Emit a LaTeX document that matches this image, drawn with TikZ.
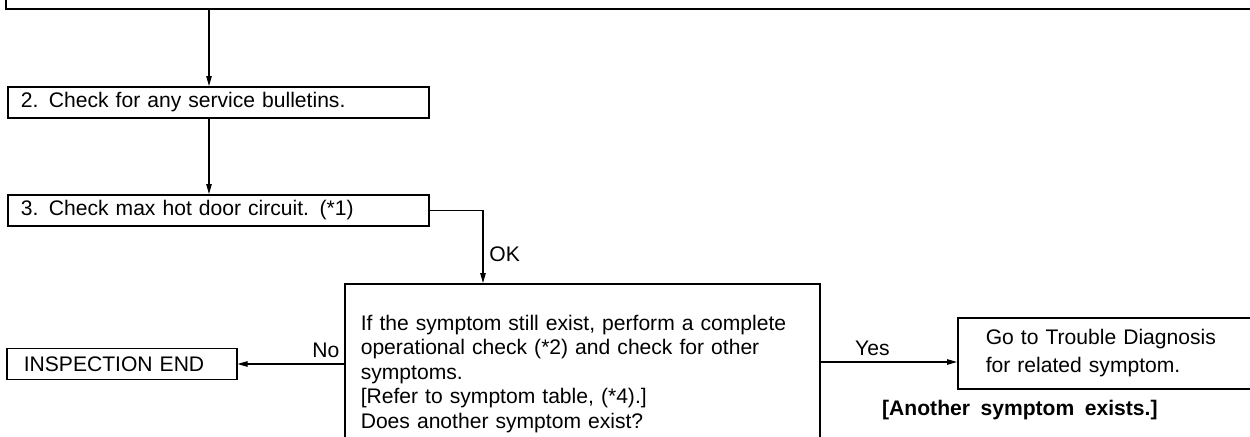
\documentclass[tikz,border=0pt]{standalone}
\usepackage{fontspec}
\setmainfont[WordSpace=1.8]{Liberation Sans}
\usetikzlibrary{arrows.meta}
\begin{document}
\begin{tikzpicture}[x=.2mm,y=-.2mm,
    font=\fontsize{12}{14}\selectfont,
    box/.style={draw,line width=.9pt,align=left,anchor=north west},
    flow/.style={line width=.6pt,-{Triangle[length=2mm,width=1.1mm]}}]
  \useasboundingbox (0,0) rectangle (1250,436);
  \clip (0,0) rectangle (1250,436);
  % steps down the left side
  \node[box,minimum width=26cm,minimum height=1.2cm,anchor=south west] (step1) at (5,10) {};
  \node[box,text width=7.9cm,inner xsep=.26cm,minimum height=.62cm] (step2) at (7,86) {2. Check for any service bulletins.};
  \node[box,text width=7.9cm,inner xsep=.26cm,minimum height=.62cm] (step3) at (7,194) {3. Check max hot door circuit. (*1)};
  \node[box,text width=8.86cm,inner xsep=.32cm,minimum height=3.6cm] (check) at (344,283)
    {If the symptom still exist, perform a complete\\operational check (*2) and check for other\\symptoms.\\{}[Refer to symptom table, (*4).]\\Does another symptom exist?};
  \node[box,text width=3.92cm,inner xsep=.34cm,minimum height=.62cm,anchor=west] (done) at (6,364) {INSPECTION END};
  \node[box,text width=6cm,inner xsep=.56cm,minimum height=1.42cm,font=\fontsize{12}{16}\selectfont] (diag) at (957,317)
    {Go to Trouble Diagnosis\\for related symptom.};
  \node[anchor=west,font=\fontsize{12}{14}\selectfont\bfseries] (other) at (876,410) {[Another symptom exists.]};
  \coordinate (spine) at (209,0);
  \coordinate (okx) at (483,0);
  \coordinate (yesy) at (0,362);
  \draw[flow] (step1.south -| spine) -- (step2.north -| spine);
  \draw[flow] (step2.south -| spine) -- (step3.north -| spine);
  \draw[flow] (step3.east) -| node[pos=.8,right] {OK} (check.north -| okx);
  \draw[flow] (check.west |- done.east) -- node[above,pos=.17] {No} (done.east);
  \draw[flow] (check.east |- yesy) -- node[above,pos=.38] {Yes} (diag.west |- yesy);
\end{tikzpicture}
\end{document}
